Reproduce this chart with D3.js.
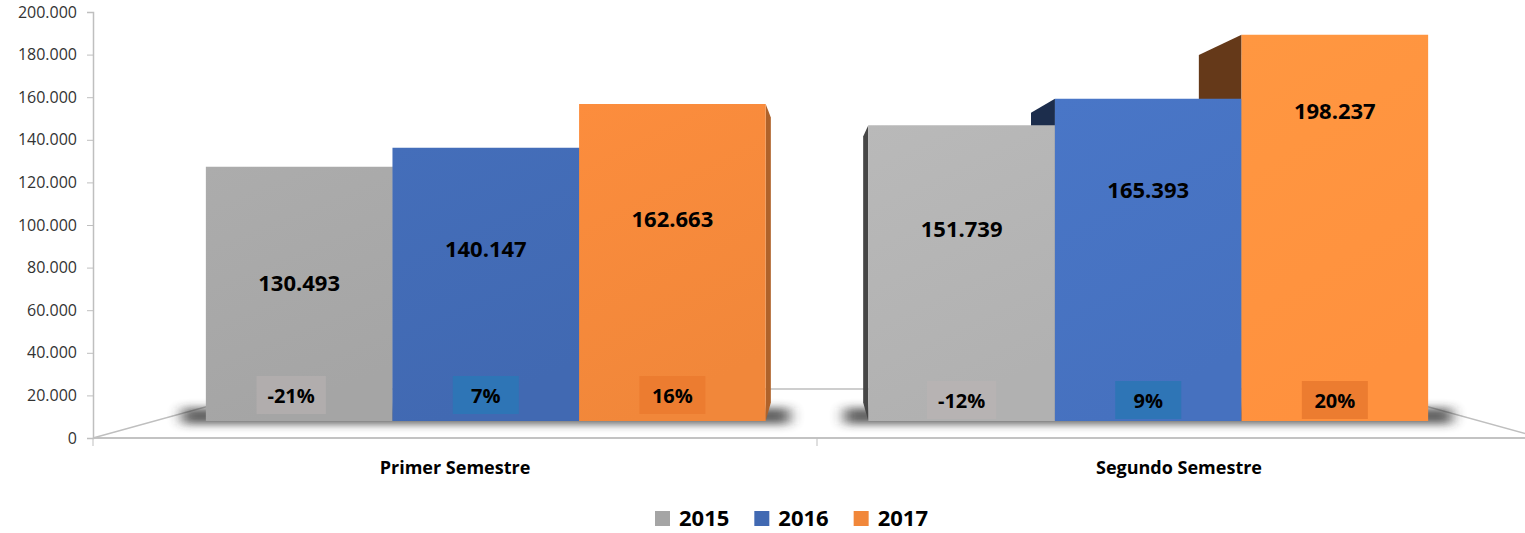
<!DOCTYPE html>
<html>
<head>
<meta charset="utf-8">
<script src="https://cdn.jsdelivr.net/npm/d3@7"></script>
<style>
  body { margin: 0; background: #fff; }
  text { font-family: "Open Sans", sans-serif; }
</style>
</head>
<body>
<svg id="chart" width="1525" height="533"></svg>
<script>
// data
const categories = ['Primer Semestre', 'Segundo Semestre'];
const years = ['2015', '2016', '2017'];
const values2015 = [130493, 151739];
const values2016 = [140147, 165393];
const values2017 = [162663, 198237];
const change2015 = ['-21%', '-12%'];
const change2016 = ['7%', '9%'];
const change2017 = ['16%', '20%'];
const yTicks = [0, 20000, 40000, 60000, 80000, 100000, 120000, 140000, 160000, 180000, 200000];

// label heights were dragged by hand in the original, kept as layout only
const labelRise = [[0.546, 0.652], [0.633, 0.719], [0.640, 0.804]];

const series = [values2015, values2016, values2017];
const changes = [change2015, change2016, change2017];
const colors = ['#a5a5a5', '#4169b2', '#f1873a'];
const boxColors = ['#b1adad', '#2e75b6', '#ec7c30'];

const svg = d3.select('#chart'),
    width = +svg.attr('width'),
    height = +svg.attr('height');

const x0 = d3.scaleBand().domain(categories).range([93, 1541]);
const x1 = d3.scaleBand().domain(years).range([0, x0.bandwidth()])
    .paddingInner(0).paddingOuter(0.275);
const y = d3.scaleLinear().domain([0, 200000]).range([438, 12]);

// simple perspective toward a vanishing point
const vp = {x: (x0.range()[0] + x0.range()[1]) / 2, y: 238};
const zFront = 0.085, zBack = 0.177, zFloor = 0.245;
function proj(px, py, z) {
  return [px + z * (vp.x - px), py + z * (vp.y - py)];
}

const defs = svg.append('defs');
defs.append('filter').attr('id', 'blur')
    .attr('x', '-20%').attr('y', '-100%').attr('width', '140%').attr('height', '300%')
  .append('feGaussianBlur').attr('stdDeviation', '7 4');

// floor
const floorPts = [
  proj(x0.range()[0], y(0), 0), proj(x0.range()[0], y(0), zFloor),
  proj(x0.range()[1], y(0), zFloor), proj(x0.range()[1], y(0), 0)
];
svg.append('polygon')
    .attr('points', floorPts.map(p => p.join(',')).join(' '))
    .attr('fill', '#fff')
    .attr('stroke', '#bfbfbf')
    .attr('stroke-width', 1.5);

// bars as flat records
const bars = [];
categories.forEach(function(c, ci) {
  years.forEach(function(yr, si) {
    const left = x0(c) + x1(yr), right = left + x1.bandwidth();
    const fill = ci === 1 ? d3.color(colors[si]).brighter(0.2).formatHex() : colors[si];
    bars.push({ci: ci, si: si, cat: c, year: yr, value: series[si][ci], change: changes[si][ci],
      left: left, right: right, fill: fill});
  });
});

// shadows under each group
categories.forEach(function(c, ci) {
  const gl = proj(x0(c) + x1(years[0]), y(0), zFront)[0];
  const gr = proj(x0(c) + x1(years[2]) + x1.bandwidth(), y(0), zFront)[0];
  const base = proj(0, y(0), zFront)[1];
  svg.append('rect')
      .attr('x', gl - 24).attr('y', base - 13)
      .attr('width', gr - gl + 48).attr('height', 16)
      .attr('fill', '#2a2a2a')
      .attr('opacity', 0.75)
      .attr('filter', 'url(#blur)');
});

// side faces first
const sides = svg.append('g').attr('class', 'sides');
bars.forEach(function(b) {
  const edge = b.right < vp.x ? b.right : b.left;
  const k = b.right < vp.x ? 0.9 : 2.6;
  const pts = [
    proj(edge, y(b.value), zFront), proj(edge, y(b.value), zBack),
    proj(edge, y(0), zBack), proj(edge, y(0), zFront)
  ];
  sides.append('polygon')
      .attr('points', pts.map(p => p.join(',')).join(' '))
      .attr('fill', d3.color(b.fill).darker(k).formatHex());
});

// front faces
bars.forEach(function(b, i) {
  const g = defs.append('linearGradient').attr('id', 'grad' + i)
      .attr('x1', 0).attr('y1', 0).attr('x2', 0.3).attr('y2', 1);
  g.append('stop').attr('offset', 0).attr('stop-color', d3.color(b.fill).brighter(0.12).formatHex());
  g.append('stop').attr('offset', 1).attr('stop-color', b.fill);
});
const fronts = svg.append('g').attr('class', 'fronts');
fronts.selectAll('polygon')
    .data(bars)
    .enter()
    .append('polygon')
    .attr('points', function(b) {
      const pts = [
        proj(b.left, y(b.value), zFront), proj(b.right, y(b.value), zFront),
        proj(b.right, y(0), zFront), proj(b.left, y(0), zFront)
      ];
      return pts.map(p => p.join(',')).join(' ');
    })
    .attr('fill', function(b, i) { return 'url(#grad' + i + ')'; });

// value labels
const fmt = d3.formatLocale({decimal: ',', thousands: '.', grouping: [3], currency: ['', '']}).format(',');
bars.forEach(function(b) {
  const cx = proj((b.left + b.right) / 2, y(0), zFront)[0];
  const top = proj(0, y(b.value), zFront)[1];
  const bot = proj(0, y(0), zFront)[1];
  const ly = bot - labelRise[b.si][b.ci] * (bot - top);
  svg.append('text')
      .attr('x', cx).attr('y', ly)
      .attr('text-anchor', 'middle')
      .attr('dominant-baseline', 'central')
      .style('font-size', '22px')
      .style('font-weight', 'bold')
      .attr('fill', '#000')
      .text(fmt(b.value));

  // change labels in small boxes
  const py = bot - (b.ci === 0 ? 26 : 21);
  const bx = cx - (b.ci === 0 && b.si === 0 ? 8 : 0);
  const t = svg.append('text')
      .attr('x', bx).attr('y', py)
      .attr('text-anchor', 'middle')
      .attr('dominant-baseline', 'central')
      .style('font-size', '20px')
      .style('font-weight', 'bold')
      .attr('fill', '#000')
      .text(b.change);
  const w = Math.max(t.node().getComputedTextLength() + 22, 66);
  svg.insert('rect', function() { return t.node(); })
      .attr('x', bx - w / 2).attr('y', py - 19)
      .attr('width', w).attr('height', 38)
      .attr('fill', b.ci === 1 && b.si === 0 ? '#b7b3b3' : boxColors[b.si]);
});

// y axis
const yAxis = svg.append('g')
    .attr('transform', 'translate(' + x0.range()[0] + ',0)')
    .call(d3.axisLeft(y).tickValues(yTicks).tickFormat(fmt).tickSize(6).tickPadding(10));
yAxis.select('.domain').attr('stroke', '#bfbfbf').attr('stroke-width', 1.5);
yAxis.selectAll('.tick line').attr('stroke', '#bfbfbf');
yAxis.selectAll('.tick text')
    .style('font-size', '16px')
    .style('font-family', '"Open Sans", sans-serif')
    .attr('fill', '#333');

// x axis
const xAxis = svg.append('g').attr('class', 'x-axis');
xAxis.append('line')
    .attr('x1', x0.range()[0]).attr('x2', width)
    .attr('y1', y(0)).attr('y2', y(0))
    .attr('stroke', '#bfbfbf').attr('stroke-width', 1.5);
xAxis.selectAll('.tk')
    .data(categories)
    .enter().append('line')
    .attr('x1', d => x0(d)).attr('x2', d => x0(d))
    .attr('y1', y(0)).attr('y2', y(0) + 8)
    .attr('stroke', '#bfbfbf');
xAxis.selectAll('.lbl')
    .data(categories)
    .enter().append('text')
    .attr('x', d => x0(d) + x0.bandwidth() / 2)
    .attr('y', 474)
    .attr('text-anchor', 'middle')
    .style('font-size', '18px')
    .style('font-weight', 'bold')
    .attr('fill', '#000')
    .text(d => d);

// legend
const legend = svg.append('g').attr('class', 'legend');
let lx = 655;
years.forEach(function(yr, i) {
  legend.append('rect')
      .attr('x', lx).attr('y', 511)
      .attr('width', 15).attr('height', 15)
      .attr('fill', colors[i]);
  const t = legend.append('text')
      .attr('x', lx + 24).attr('y', 526)
      .style('font-size', '22px')
      .style('font-weight', 'bold')
      .attr('fill', '#000')
      .text(yr);
  lx += 24 + t.node().getComputedTextLength() + 25;
});
</script>
</body>
</html>
